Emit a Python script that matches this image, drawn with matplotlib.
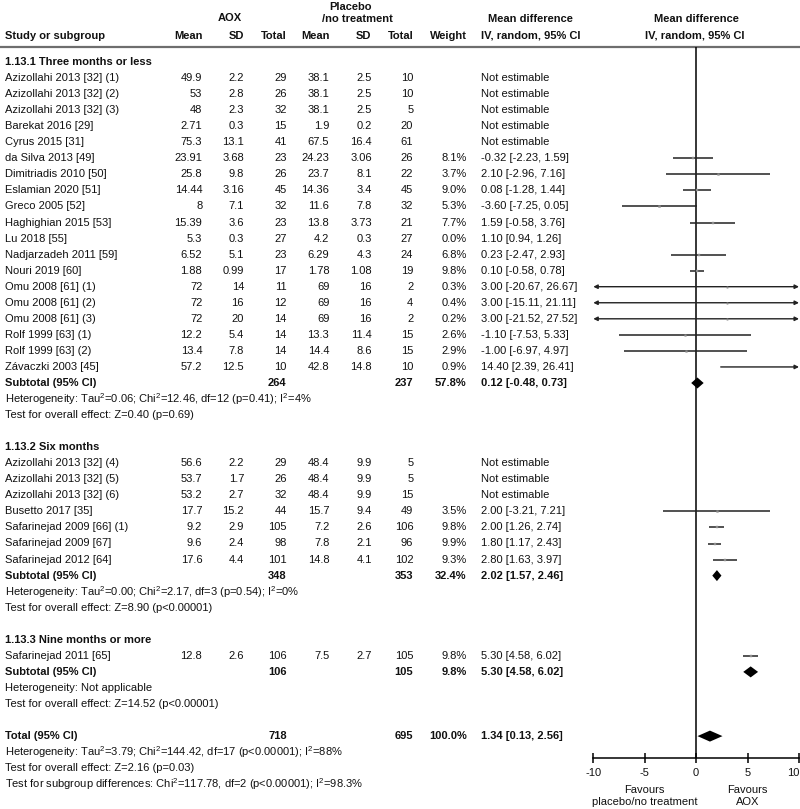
import matplotlib
matplotlib.use("Agg")
import matplotlib.pyplot as plt
import matplotlib.transforms as mtransforms

plt.rcParams['font.family'] = ['Liberation Sans', 'DejaVu Sans']
plt.rcParams['mathtext.fontset'] = 'custom'
plt.rcParams['mathtext.rm'] = 'Liberation Sans'
plt.rcParams['mathtext.it'] = 'Liberation Sans:italic'
plt.rcParams['mathtext.bf'] = 'Liberation Sans:bold'

# ---------------- data ----------------
group_titles = ["1.13.1 Three months or less", "1.13.2 Six months", "1.13.3 Nine months or more"]

studies1 = ["Azizollahi 2013 [32] (1)", "Azizollahi 2013 [32] (2)", "Azizollahi 2013 [32] (3)",
            "Barekat 2016 [29]", "Cyrus 2015 [31]", "da Silva 2013 [49]", "Dimitriadis 2010 [50]",
            "Eslamian 2020 [51]", "Greco 2005 [52]", "Haghighian 2015 [53]", "Lu 2018 [55]",
            "Nadjarzadeh 2011 [59]", "Nouri 2019 [60]", "Omu 2008 [61] (1)", "Omu 2008 [61] (2)",
            "Omu 2008 [61] (3)", "Rolf 1999 [63] (1)", "Rolf 1999 [63] (2)", "Závaczki 2003 [45]"]
aox_mean1 = [49.9, 53, 48, 2.71, 75.3, 23.91, 25.8, 14.44, 8, 15.39, 5.3, 6.52, 1.88, 72, 72, 72, 12.2, 13.4, 57.2]
aox_sd1 = [2.2, 2.8, 2.3, 0.3, 13.1, 3.68, 9.8, 3.16, 7.1, 3.6, 0.3, 5.1, 0.99, 14, 16, 20, 5.4, 7.8, 12.5]
aox_n1 = [29, 26, 32, 15, 41, 23, 26, 45, 32, 23, 27, 23, 17, 11, 12, 14, 14, 14, 10]
pl_mean1 = [38.1, 38.1, 38.1, 1.9, 67.5, 24.23, 23.7, 14.36, 11.6, 13.8, 4.2, 6.29, 1.78, 69, 69, 69, 13.3, 14.4, 42.8]
pl_sd1 = [2.5, 2.5, 2.5, 0.2, 16.4, 3.06, 8.1, 3.4, 7.8, 3.73, 0.3, 4.3, 1.08, 16, 16, 16, 11.4, 8.6, 14.8]
pl_n1 = [10, 10, 5, 20, 61, 26, 22, 45, 32, 21, 27, 24, 19, 2, 4, 2, 15, 15, 10]
weight1 = [None, None, None, None, None, 8.1, 3.7, 9.0, 5.3, 7.7, 0.0, 6.8, 9.8, 0.3, 0.4, 0.2, 2.6, 2.9, 0.9]
md1 = [None, None, None, None, None, -0.32, 2.10, 0.08, -3.60, 1.59, 1.10, 0.23, 0.10, 3.00, 3.00, 3.00, -1.10, -1.00, 14.40]
lo1 = [None, None, None, None, None, -2.23, -2.96, -1.28, -7.25, -0.58, 0.94, -2.47, -0.58, -20.67, -15.11, -21.52, -7.53, -6.97, 2.39]
hi1 = [None, None, None, None, None, 1.59, 7.16, 1.44, 0.05, 3.76, 1.26, 2.93, 0.78, 26.67, 21.11, 27.52, 5.33, 4.97, 26.41]

studies2 = ["Azizollahi 2013 [32] (4)", "Azizollahi 2013 [32] (5)", "Azizollahi 2013 [32] (6)",
            "Busetto 2017 [35]", "Safarinejad 2009 [66] (1)", "Safarinejad 2009 [67]", "Safarinejad 2012 [64]"]
aox_mean2 = [56.6, 53.7, 53.2, 17.7, 9.2, 9.6, 17.6]
aox_sd2 = [2.2, 1.7, 2.7, 15.2, 2.9, 2.4, 4.4]
aox_n2 = [29, 26, 32, 44, 105, 98, 101]
pl_mean2 = [48.4, 48.4, 48.4, 15.7, 7.2, 7.8, 14.8]
pl_sd2 = [9.9, 9.9, 9.9, 9.4, 2.6, 2.1, 4.1]
pl_n2 = [5, 5, 15, 49, 106, 96, 102]
weight2 = [None, None, None, 3.5, 9.8, 9.9, 9.3]
md2 = [None, None, None, 2.00, 2.00, 1.80, 2.80]
lo2 = [None, None, None, -3.21, 1.26, 1.17, 1.63]
hi2 = [None, None, None, 7.21, 2.74, 2.43, 3.97]

studies3 = ["Safarinejad 2011 [65]"]
aox_mean3 = [12.8]
aox_sd3 = [2.6]
aox_n3 = [106]
pl_mean3 = [7.5]
pl_sd3 = [2.7]
pl_n3 = [105]
weight3 = [9.8]
md3 = [5.30]
lo3 = [4.58]
hi3 = [6.02]

sub_aox_n = [264, 348, 106]
sub_pl_n = [237, 353, 105]
sub_weight = [57.8, 32.4, 9.8]
sub_md = [0.12, 2.02, 5.30]
sub_lo = [-0.48, 1.57, 4.58]
sub_hi = [0.73, 2.46, 6.02]
sub_het = ["Heterogeneity: Tau$^{2}$=0.06; Chi$^{2}$=12.46, df=12 (p=0.41); I$^{2}$=4%",
           "Heterogeneity: Tau$^{2}$=0.00; Chi$^{2}$=2.17, df=3 (p=0.54); I$^{2}$=0%",
           "Heterogeneity: Not applicable"]
sub_test = ["Test for overall effect: Z=0.40 (p=0.69)",
            "Test for overall effect: Z=8.90 (p<0.00001)",
            "Test for overall effect: Z=14.52 (p<0.00001)"]

total_aox_n = 718
total_pl_n = 695
total_weight = 100.0
total_md = 1.34
total_lo = 0.13
total_hi = 2.56
total_notes = ["Heterogeneity: Tau$^{2}$=3.79; Chi$^{2}$=144.42, df=17 (p<0.00001); I$^{2}$=88%",
               "Test for overall effect: Z=2.16 (p=0.03)",
               "Test for subgroup differences: Chi$^{2}$=117.78, df=2 (p<0.00001); I$^{2}$=98.3%"]

xticks = [-10, -5, 0, 5, 10]
favour_left = "Favours\nplacebo/no treatment"
favour_right = "Favours\nAOX"

groups = [
    (studies1, aox_mean1, aox_sd1, aox_n1, pl_mean1, pl_sd1, pl_n1, weight1, md1, lo1, hi1),
    (studies2, aox_mean2, aox_sd2, aox_n2, pl_mean2, pl_sd2, pl_n2, weight2, md2, lo2, hi2),
    (studies3, aox_mean3, aox_sd3, aox_n3, pl_mean3, pl_sd3, pl_n3, weight3, md3, lo3, hi3),
]

# ---------------- layout ----------------
W, H = 800, 809
fig = plt.figure(figsize=(W / 100, H / 100), dpi=100)
tab = fig.add_axes([0, 0, 1, 1])
tab.set_xlim(0, W)
tab.set_ylim(H, 0)
tab.axis('off')

AX_L, AX_R = 593.3, 799.0
AX_TOP, AX_BOT = 47.0, 758.0
ax = fig.add_axes([AX_L / W, (H - AX_BOT) / H, (AX_R - AX_L) / W, (AX_BOT - AX_TOP) / H])
ax.set_xlim(-10, 10)
ax.set_ylim(AX_BOT, AX_TOP)
ax.patch.set_alpha(0)

FS = 8
TC = '#111111'
X_STUDY = 5
X_AM, X_ASD, X_AN = 202.3, 244.0, 286.7
X_PM, X_PSD, X_PN = 329.3, 371.7, 413.3
X_W = 466.7
X_MD = 481.0

def row_y(k):
    return 62 + 16.05 * k

def t(x, y, s, ha='left', bold=False, **kw):
    tab.text(x, y, s, ha=ha, va='center', fontsize=FS, color=TC,
             fontweight='bold' if bold else 'normal', **kw)

def fmt(v):
    return f"{v:g}"

def ci_text(m, l, h):
    return f"{m:.2f} [{l:.2f}, {h:.2f}]"

# headers
t(230, 18, "AOX", ha='center', bold=True)
t(350, 7, "Placebo", ha='center', bold=True)
t(357, 19, "/no treatment", ha='center', bold=True)
t(530.5, 19, "Mean difference", ha='center', bold=True)
t(696, 19, "Mean difference", ha='center', bold=True)
hy = 35.5
t(X_STUDY, hy, "Study or subgroup", bold=True)
for x, s in [(X_AM, "Mean"), (X_ASD, "SD"), (X_AN, "Total"), (X_PM, "Mean"), (X_PSD, "SD"),
             (X_PN, "Total"), (X_W, "Weight")]:
    t(x, hy, s, ha='right', bold=True)
t(531, hy, "IV, random, 95% CI", ha='center', bold=True)
t(695, hy, "IV, random, 95% CI", ha='center', bold=True)
tab.plot([0, W], [46.5, 46.5], color='#6e6e6e', lw=1.6, solid_capstyle='butt')

LINE_C = '#222222'
SQ_C = '#8c8c8c'

def draw_ci(y, m, l, h, w):
    if w is None or w == 0:
        return
    left, right = max(l, -10), min(h, 10)
    if l < -10 or h > 10:
        style = '<|-|>' if (l < -10 and h > 10) else ('-|>' if h > 10 else '<|-')
        ax.annotate('', xy=(right, y), xytext=(left, y),
                    arrowprops=dict(arrowstyle=style, color=LINE_C, lw=1.0,
                                    shrinkA=0, shrinkB=0, mutation_scale=6),
                    annotation_clip=False)
    else:
        ax.plot([left, right], [y, y], color=LINE_C, lw=1.1, solid_capstyle='butt', zorder=2)
    if -10 <= m <= 10:
        ax.plot([m], [y], marker='s', ls='none', color=SQ_C, ms=1.0 + 0.08 * w,
                mec=SQ_C, mew=0.3, zorder=3)

def diamond(y, m, l, h, hh=5.5):
    ax.fill([l, m, h, m], [y, y - hh, y, y + hh], color='black', lw=0, zorder=4)

k = 0
for gi, g in enumerate(groups):
    studies, am, asd, an, pm, psd, pn, wt, md, lo, hi = g
    t(X_STUDY, row_y(k), group_titles[gi], bold=True)
    k += 1
    for i in range(len(studies)):
        y = row_y(k)
        t(X_STUDY, y, studies[i])
        t(X_AM, y, fmt(am[i]), ha='right')
        t(X_ASD, y, fmt(asd[i]), ha='right')
        t(X_AN, y, str(an[i]), ha='right')
        t(X_PM, y, fmt(pm[i]), ha='right')
        t(X_PSD, y, fmt(psd[i]), ha='right')
        t(X_PN, y, str(pn[i]), ha='right')
        if wt[i] is None:
            t(X_MD, y, "Not estimable")
        else:
            t(X_W, y, f"{wt[i]:.1f}%", ha='right')
            t(X_MD, y, ci_text(md[i], lo[i], hi[i]))
            draw_ci(y, md[i], lo[i], hi[i], wt[i])
        k += 1
    y = row_y(k)
    t(X_STUDY, y, "Subtotal (95% CI)", bold=True)
    t(X_AN, y, str(sub_aox_n[gi]), ha='right', bold=True)
    t(X_PN, y, str(sub_pl_n[gi]), ha='right', bold=True)
    t(X_W, y, f"{sub_weight[gi]:.1f}%", ha='right', bold=True)
    t(X_MD, y, ci_text(sub_md[gi], sub_lo[gi], sub_hi[gi]), bold=True)
    diamond(y, sub_md[gi], sub_lo[gi], sub_hi[gi])
    k += 1
    t(X_STUDY, row_y(k), sub_het[gi])
    k += 1
    t(X_STUDY, row_y(k), sub_test[gi])
    k += 2

y = row_y(k)
t(X_STUDY, y, "Total (95% CI)", bold=True)
t(X_AN, y, str(total_aox_n), ha='right', bold=True)
t(X_PN, y, str(total_pl_n), ha='right', bold=True)
t(X_W, y, f"{total_weight:.1f}%", ha='right', bold=True)
t(X_MD, y, ci_text(total_md, total_lo, total_hi), bold=True)
diamond(y, total_md, total_lo, total_hi)
k += 1
for note in total_notes:
    t(X_STUDY, row_y(k), note)
    k += 1

# forest axis
ax.axvline(0, color='black', lw=1.1, zorder=1)
for s in ['top', 'right', 'left']:
    ax.spines[s].set_visible(False)
ax.spines['bottom'].set_color('black')
ax.spines['bottom'].set_linewidth(1.1)
ax.set_yticks([])
ax.set_xticks(xticks)
ax.set_xticklabels([str(v) for v in xticks])
ax.tick_params(axis='x', direction='inout', length=7, width=1.1, labelsize=FS,
               labelcolor=TC, pad=4)
ax.get_xticklabels()[-1].set_horizontalalignment('right')
ax.get_xticklabels()[-1].set_x(10)

trans = mtransforms.blended_transform_factory(ax.transData, tab.transData)
for xv, s in [(-5, favour_left), (5, favour_right)]:
    tab.text(xv, 796, s, transform=trans, ha='center', va='center', fontsize=FS,
             color=TC, linespacing=1.25)

fig.savefig("out.png", dpi=100)
